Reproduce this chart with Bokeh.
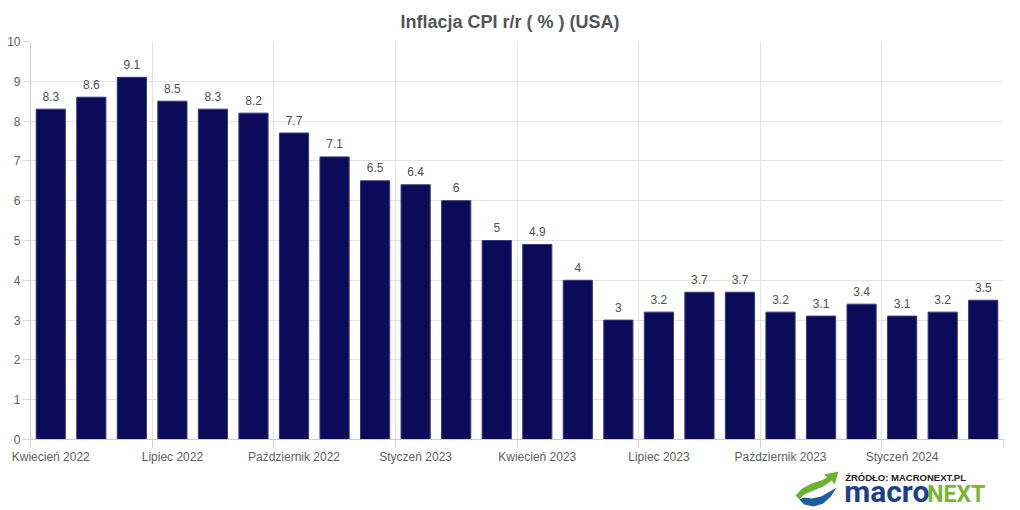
from bokeh.plotting import figure
from bokeh.layouts import column
from bokeh.models import ColumnDataSource, FixedTicker, Range1d
from bokeh.core.properties import value
from bokeh.embed import file_html
from bokeh.resources import INLINE

# ---- data ----
months = ["Kwiecień 2022", "Maj 2022", "Czerwiec 2022", "Lipiec 2022", "Sierpień 2022",
          "Wrzesień 2022", "Październik 2022", "Listopad 2022", "Grudzień 2022",
          "Styczeń 2023", "Luty 2023", "Marzec 2023", "Kwiecień 2023", "Maj 2023",
          "Czerwiec 2023", "Lipiec 2023", "Sierpień 2023", "Wrzesień 2023",
          "Październik 2023", "Listopad 2023", "Grudzień 2023", "Styczeń 2024",
          "Luty 2024", "Marzec 2024"]
cpi = [8.3, 8.6, 9.1, 8.5, 8.3, 8.2, 7.7, 7.1, 6.5, 6.4, 6.0, 5.0,
       4.9, 4.0, 3.0, 3.2, 3.7, 3.7, 3.2, 3.1, 3.4, 3.1, 3.2, 3.5]
y_ticks = [0, 1, 2, 3, 4, 5, 6, 7, 8, 9, 10]
title_text = "Inflacja CPI r/r ( % ) (USA)"
source_text = "ŹRÓDŁO: MACRONEXT.PL"
logo_left = "macro"
logo_right = "NEXT"

FONT = "Liberation Sans"
n = len(months)
xs = list(range(n))
labels = [("%g" % v) for v in cpi]
src = ColumnDataSource(dict(x=xs, cpi=cpi, lbl=labels))

W = 1020
H1 = 466          # main chart height
H2 = 510 - H1     # logo strip height
FL, FR, FT, FB = 30, 1003, 41, 439   # frame edges in page pixels

p = figure(width=W, height=H1, x_range=(-0.5, n - 0.5), y_range=(0, 10),
           output_backend="svg", toolbar_location=None,
           min_border_left=FL, min_border_right=W - FR,
           min_border_top=FT, min_border_bottom=H1 - FB)
p.outline_line_color = None
p.background_fill_color = "white"
p.border_fill_color = "white"

p.title.text = title_text
p.title.align = "left"
p.title.offset = 370
p.title.vertical_align = "top"
p.title.text_font = FONT
p.title.text_font_size = "18px"
p.title.text_font_style = "bold"
p.title.text_color = "#555555"
p.title.standoff = 16

p.vbar(x="x", top="cpi", width=0.72, source=src,
       fill_color="#0b0b5a", line_color="#3a3a7a", line_width=1)
p.text(x="x", y="cpi", text="lbl", source=src, y_offset=-13,
       text_align="center", text_baseline="alphabetic",
       text_font=value(FONT), text_font_size="12px", text_color="#505050")

# axes
xt = FixedTicker(ticks=[i for i in xs if i % 3 == 0],
                 minor_ticks=[i - 0.5 for i in range(0, n + 1, 3)])
p.xaxis.ticker = xt
p.xaxis.major_label_overrides = {i: months[i] for i in xs if i % 3 == 0}
p.xaxis.major_tick_out = 0
p.xaxis.major_tick_in = 0
p.xaxis.minor_tick_out = 8
p.xaxis.minor_tick_in = 0
p.xaxis.minor_tick_line_color = "#d0d0d0"
p.xaxis.axis_line_color = "#cccccc"
p.xaxis.major_label_standoff = 2
p.xaxis.major_label_text_font = FONT
p.xaxis.major_label_text_font_size = "12px"
p.xaxis.major_label_text_color = "#606060"

p.yaxis.ticker = FixedTicker(ticks=y_ticks, minor_ticks=[])
p.yaxis.major_tick_out = 8
p.yaxis.major_tick_in = 0
p.yaxis.minor_tick_out = 0
p.yaxis.major_tick_line_color = "#d8d8d8"
p.yaxis.axis_line_color = "#cccccc"
p.yaxis.major_label_standoff = 2
p.yaxis.major_label_text_font = FONT
p.yaxis.major_label_text_font_size = "12px"
p.yaxis.major_label_text_color = "#606060"

p.xgrid.ticker = xt
p.xgrid.grid_line_color = None
p.xgrid.minor_grid_line_color = "#e4e4e4"
p.ygrid.grid_line_color = "#e4e4e4"

# ---- source logo strip (decoration; coordinates are page pixels) ----
q = figure(width=W, height=H2, x_range=Range1d(0, W), y_range=Range1d(510, H1),
           output_backend="svg", toolbar_location=None,
           x_axis_location=None, y_axis_location=None,
           min_border_left=0, min_border_right=0, min_border_top=0, min_border_bottom=0)
q.outline_line_color = None
q.xgrid.visible = False
q.ygrid.visible = False
q.border_fill_color = "white"
q.background_fill_color = "white"

green_px = [(802, 495), (809, 488), (819, 483), (829, 480), (835, 477), (832, 474),
            (847, 471), (843, 484), (840, 480), (831, 486), (821, 490), (811, 494), (806, 499)]
blue_px = [(806, 499), (811, 504), (821, 506), (831, 503), (839, 496), (845, 487),
           (838, 491), (829, 496), (819, 498), (811, 497)]
q.patch([a for a, b in green_px], [b for a, b in green_px],
        fill_color="#6ab42d", line_color=None)
q.patch([a for a, b in blue_px], [b for a, b in blue_px],
        fill_color="#1b5ea6", line_color=None)

q.text(x=[854], y=[476.5], text=[source_text], text_font=value(FONT),
       text_font_size="9.5px", text_font_style="bold", text_color="#222222",
       text_baseline="alphabetic", text_align="left")
q.text(x=[853], y=[491], text=[logo_left], text_font=value("Roboto"),
       text_font_size="30px", text_font_style="bold", text_color="#1d3f8f",
       text_baseline="alphabetic", text_align="left")
q.text(x=[1001], y=[493.5], text=[logo_right], text_font=value("Roboto"),
       text_font_size="23px", text_font_style="bold", text_color="#7ab62e",
       text_baseline="alphabetic", text_align="right")

open("out.html", "w").write(file_html(column(p, q, spacing=0), INLINE))
